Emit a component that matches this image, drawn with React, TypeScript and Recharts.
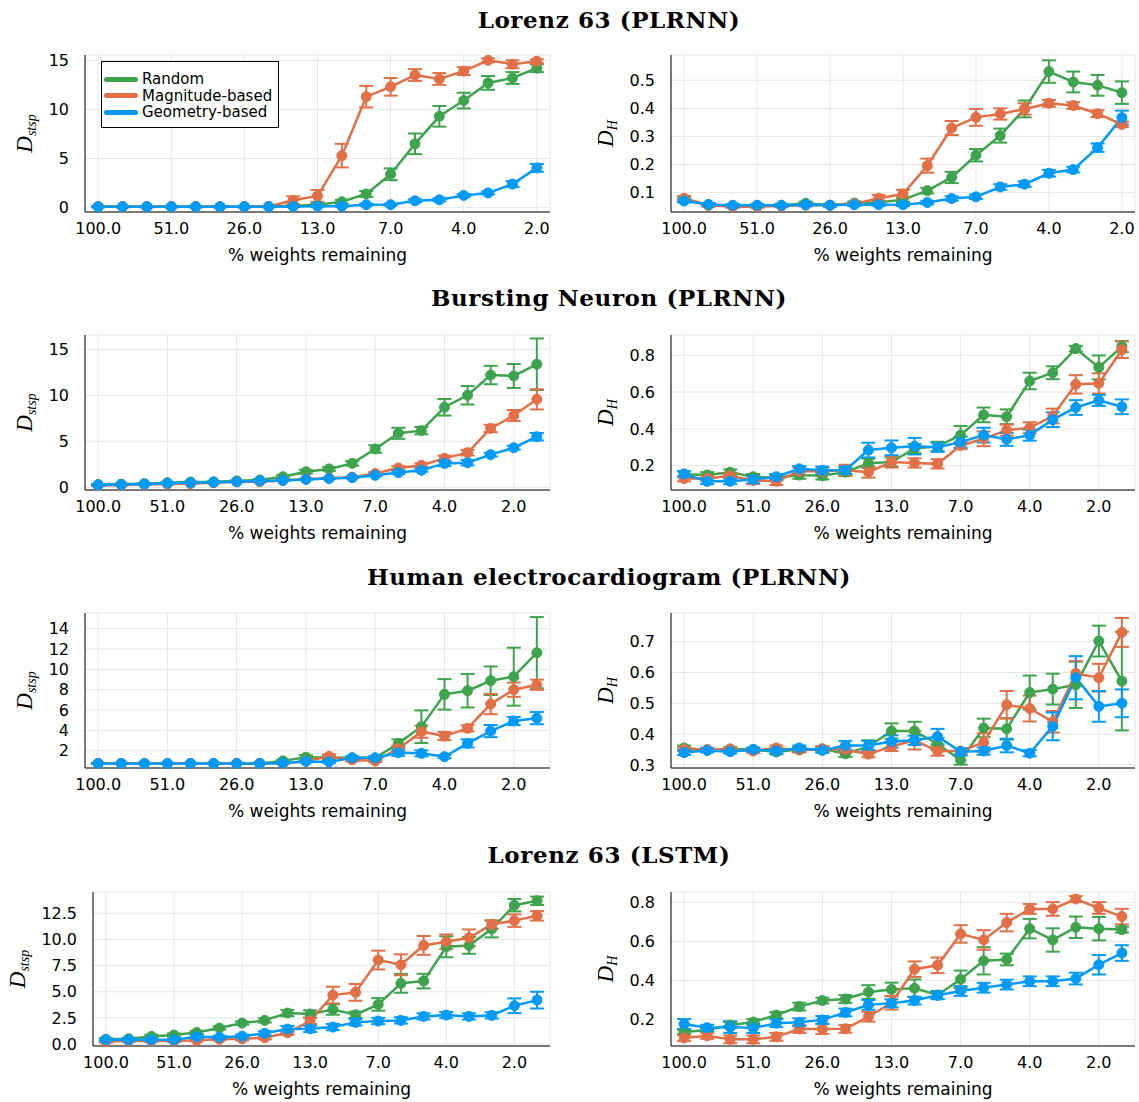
import React from 'react';
import { LineChart, Line, XAxis, YAxis, CartesianGrid, ErrorBar } from 'recharts';

const GREEN = '#3DA44D';
const ORANGE = '#E26F46';
const BLUE = '#009AF9';

const X_TICKS = [0, 3, 6, 9, 12, 15, 18];
const X_TICK_LABELS = ['100.0', '51.0', '26.0', '13.0', '7.0', '4.0', '2.0'];

// Lorenz 63 (PLRNN) - D_stsp
const l63D_rand = [0.1, 0.1, 0.1, 0.1, 0.1, 0.1, 0.1, 0.12, 0.2, 0.3, 0.6, 1.4, 3.4, 6.5, 9.3, 10.9, 12.7, 13.2, 14.2];
const l63D_randErr = [0.05, 0.05, 0.05, 0.05, 0.05, 0.05, 0.05, 0.05, 0.1, 0.15, 0.2, 0.3, 0.6, 1.05, 1.05, 0.8, 0.7, 0.6, 0.4];
const l63D_mag = [0.1, 0.1, 0.1, 0.1, 0.1, 0.1, 0.1, 0.12, 0.75, 1.2, 5.3, 11.3, 12.3, 13.5, 13.1, 13.9, 15.0, 14.6, 14.9];
const l63D_magErr = [0.05, 0.05, 0.05, 0.05, 0.05, 0.05, 0.05, 0.05, 0.4, 0.6, 1.2, 1.1, 0.9, 0.6, 0.6, 0.4, 0.2, 0.4, 0.2];
const l63D_geo = [0.1, 0.1, 0.1, 0.1, 0.1, 0.1, 0.1, 0.1, 0.12, 0.15, 0.15, 0.3, 0.3, 0.7, 0.8, 1.25, 1.5, 2.4, 4.05];
const l63D_geoErr = [0.05, 0.05, 0.05, 0.05, 0.05, 0.05, 0.05, 0.05, 0.05, 0.05, 0.05, 0.1, 0.1, 0.15, 0.15, 0.15, 0.15, 0.3, 0.4];

// Lorenz 63 (PLRNN) - D_H
const l63H_rand = [0.075, 0.055, 0.052, 0.052, 0.055, 0.062, 0.055, 0.063, 0.065, 0.075, 0.107, 0.154, 0.233, 0.303, 0.398, 0.531, 0.494, 0.482, 0.456];
const l63H_randErr = [0.008, 0.005, 0.004, 0.004, 0.004, 0.006, 0.004, 0.006, 0.006, 0.008, 0.01, 0.02, 0.022, 0.025, 0.03, 0.04, 0.037, 0.037, 0.04];
const l63H_mag = [0.08, 0.055, 0.05, 0.05, 0.052, 0.055, 0.055, 0.06, 0.08, 0.095, 0.196, 0.33, 0.368, 0.38, 0.398, 0.418, 0.41, 0.381, 0.343];
const l63H_magErr = [0.008, 0.004, 0.004, 0.004, 0.004, 0.004, 0.004, 0.005, 0.012, 0.015, 0.025, 0.025, 0.03, 0.02, 0.02, 0.012, 0.012, 0.012, 0.01];
const l63H_geo = [0.07, 0.058, 0.055, 0.055, 0.055, 0.057, 0.055, 0.057, 0.057, 0.057, 0.065, 0.079, 0.085, 0.12, 0.13, 0.169, 0.182, 0.26, 0.367];
const l63H_geoErr = [0.005, 0.005, 0.005, 0.005, 0.005, 0.005, 0.005, 0.005, 0.005, 0.005, 0.006, 0.008, 0.008, 0.01, 0.01, 0.012, 0.01, 0.015, 0.025];

// Bursting Neuron (PLRNN) - D_stsp
const bnD_rand = [0.3, 0.35, 0.4, 0.5, 0.58, 0.6, 0.7, 0.8, 1.15, 1.7, 2.0, 2.6, 4.17, 5.87, 6.16, 8.7, 10.0, 12.2, 12.1, 13.37];
const bnD_randErr = [0.05, 0.05, 0.05, 0.05, 0.05, 0.05, 0.05, 0.1, 0.15, 0.2, 0.2, 0.25, 0.4, 0.6, 0.4, 0.9, 1.0, 1.0, 1.3, 2.8];
const bnD_mag = [0.2, 0.25, 0.3, 0.35, 0.4, 0.5, 0.6, 0.6, 0.75, 0.9, 1.0, 1.1, 1.5, 2.1, 2.4, 3.15, 3.77, 6.4, 7.8, 9.56];
const bnD_magErr = [0.05, 0.05, 0.05, 0.05, 0.05, 0.05, 0.05, 0.05, 0.05, 0.05, 0.05, 0.05, 0.15, 0.2, 0.2, 0.3, 0.3, 0.4, 0.6, 1.1];
const bnD_geo = [0.25, 0.3, 0.35, 0.45, 0.5, 0.55, 0.6, 0.7, 0.75, 0.85, 0.95, 1.05, 1.3, 1.6, 1.85, 2.6, 2.68, 3.55, 4.3, 5.5];
const bnD_geoErr = [0.05, 0.05, 0.05, 0.05, 0.05, 0.05, 0.05, 0.05, 0.05, 0.05, 0.05, 0.05, 0.1, 0.15, 0.15, 0.3, 0.3, 0.2, 0.2, 0.4];

// Bursting Neuron (PLRNN) - D_H
const bnH_rand = [0.154, 0.15, 0.165, 0.14, 0.135, 0.149, 0.145, 0.165, 0.213, 0.22, 0.293, 0.305, 0.366, 0.476, 0.466, 0.66, 0.705, 0.836, 0.734, 0.847];
const bnH_randErr = [0.015, 0.015, 0.015, 0.015, 0.015, 0.02, 0.02, 0.02, 0.025, 0.025, 0.025, 0.025, 0.05, 0.04, 0.04, 0.045, 0.035, 0.015, 0.065, 0.03];
const bnH_mag = [0.13, 0.13, 0.145, 0.12, 0.115, 0.17, 0.17, 0.175, 0.165, 0.22, 0.215, 0.21, 0.31, 0.346, 0.393, 0.406, 0.47, 0.642, 0.647, 0.83];
const bnH_magErr = [0.015, 0.015, 0.015, 0.02, 0.02, 0.02, 0.02, 0.03, 0.03, 0.03, 0.025, 0.025, 0.02, 0.04, 0.03, 0.03, 0.04, 0.05, 0.055, 0.045];
const bnH_geo = [0.155, 0.115, 0.115, 0.125, 0.14, 0.183, 0.175, 0.175, 0.285, 0.297, 0.306, 0.3, 0.328, 0.366, 0.343, 0.366, 0.45, 0.516, 0.555, 0.52];
const bnH_geoErr = [0.015, 0.015, 0.015, 0.02, 0.015, 0.015, 0.02, 0.02, 0.04, 0.04, 0.045, 0.025, 0.03, 0.04, 0.035, 0.03, 0.04, 0.04, 0.03, 0.04];

// Human electrocardiogram (PLRNN) - D_stsp
const ecgD_rand = [0.75, 0.75, 0.75, 0.75, 0.75, 0.75, 0.75, 0.75, 1.0, 1.36, 1.3, 1.3, 1.28, 2.72, 4.36, 7.54, 7.9, 8.88, 9.28, 11.64];
const ecgD_randErr = [0.05, 0.05, 0.05, 0.05, 0.05, 0.05, 0.05, 0.05, 0.1, 0.2, 0.15, 0.15, 0.15, 0.4, 1.6, 1.5, 1.65, 1.4, 2.85, 3.5];
const ecgD_mag = [0.75, 0.75, 0.75, 0.75, 0.75, 0.75, 0.75, 0.75, 0.75, 0.98, 1.44, 1.1, 0.98, 2.2, 3.87, 3.44, 4.2, 6.59, 8.0, 8.49];
const ecgD_magErr = [0.05, 0.05, 0.05, 0.05, 0.05, 0.05, 0.05, 0.05, 0.05, 0.1, 0.2, 0.15, 0.1, 0.3, 0.6, 0.4, 0.3, 1.0, 0.7, 0.5];
const ecgD_geo = [0.75, 0.75, 0.75, 0.75, 0.75, 0.75, 0.75, 0.75, 0.8, 0.95, 0.9, 1.3, 1.3, 1.8, 1.74, 1.41, 2.72, 3.93, 4.92, 5.2];
const ecgD_geoErr = [0.05, 0.05, 0.05, 0.05, 0.05, 0.05, 0.05, 0.05, 0.1, 0.1, 0.1, 0.15, 0.15, 0.3, 0.3, 0.15, 0.4, 0.6, 0.4, 0.6];

// Human electrocardiogram (PLRNN) - D_H
const ecgH_rand = [0.355, 0.348, 0.352, 0.35, 0.342, 0.35, 0.352, 0.336, 0.36, 0.41, 0.41, 0.368, 0.316, 0.42, 0.417, 0.535, 0.546, 0.56, 0.702, 0.572];
const ecgH_randErr = [0.008, 0.006, 0.006, 0.006, 0.008, 0.008, 0.008, 0.01, 0.02, 0.025, 0.03, 0.02, 0.015, 0.03, 0.035, 0.055, 0.05, 0.075, 0.05, 0.16];
const ecgH_mag = [0.35, 0.35, 0.35, 0.345, 0.355, 0.348, 0.352, 0.35, 0.335, 0.36, 0.38, 0.345, 0.345, 0.373, 0.495, 0.483, 0.44, 0.597, 0.583, 0.73];
const ecgH_magErr = [0.006, 0.006, 0.006, 0.006, 0.008, 0.008, 0.008, 0.01, 0.01, 0.015, 0.03, 0.015, 0.01, 0.03, 0.045, 0.042, 0.035, 0.04, 0.045, 0.047];
const ecgH_geo = [0.34, 0.347, 0.343, 0.35, 0.345, 0.355, 0.347, 0.363, 0.363, 0.376, 0.38, 0.392, 0.343, 0.345, 0.363, 0.338, 0.425, 0.583, 0.49, 0.5];
const ecgH_geoErr = [0.008, 0.006, 0.006, 0.006, 0.008, 0.008, 0.008, 0.015, 0.015, 0.02, 0.015, 0.025, 0.012, 0.012, 0.022, 0.01, 0.045, 0.07, 0.05, 0.045];

// Lorenz 63 (LSTM) - D_stsp
const lstmD_rand = [0.45, 0.5, 0.73, 0.86, 1.1, 1.53, 2.0, 2.26, 2.96, 2.87, 3.3, 2.8, 3.79, 5.8, 6.02, 9.3, 9.43, 11.0, 13.28, 13.7];
const lstmD_randErr = [0.1, 0.1, 0.15, 0.15, 0.15, 0.15, 0.15, 0.2, 0.3, 0.35, 0.5, 0.3, 0.6, 0.9, 0.7, 1.0, 0.8, 0.8, 0.6, 0.4];
const lstmD_mag = [0.25, 0.3, 0.3, 0.3, 0.35, 0.45, 0.5, 0.6, 1.08, 2.2, 4.68, 4.94, 8.03, 7.58, 9.43, 9.78, 10.16, 11.43, 11.8, 12.26];
const lstmD_magErr = [0.1, 0.1, 0.1, 0.1, 0.1, 0.1, 0.15, 0.15, 0.2, 0.3, 0.8, 0.8, 0.9, 1.0, 0.9, 0.7, 0.8, 0.4, 0.6, 0.45];
const lstmD_geo = [0.41, 0.4, 0.4, 0.4, 0.7, 0.65, 0.75, 1.02, 1.43, 1.45, 1.62, 2.07, 2.2, 2.26, 2.64, 2.77, 2.64, 2.74, 3.66, 4.2];
const lstmD_geoErr = [0.1, 0.1, 0.1, 0.1, 0.15, 0.15, 0.15, 0.2, 0.3, 0.3, 0.3, 0.3, 0.3, 0.3, 0.3, 0.3, 0.3, 0.3, 0.7, 0.8];

// Lorenz 63 (LSTM) - D_H
const lstmH_rand = [0.135, 0.145, 0.17, 0.186, 0.222, 0.265, 0.296, 0.304, 0.34, 0.353, 0.359, 0.325, 0.405, 0.5, 0.507, 0.665, 0.607, 0.672, 0.665, 0.66];
const lstmH_randErr = [0.01, 0.01, 0.015, 0.015, 0.015, 0.02, 0.015, 0.02, 0.035, 0.035, 0.045, 0.02, 0.045, 0.07, 0.03, 0.05, 0.06, 0.055, 0.06, 0.015];
const lstmH_mag = [0.104, 0.115, 0.097, 0.097, 0.11, 0.15, 0.15, 0.151, 0.213, 0.285, 0.457, 0.477, 0.638, 0.607, 0.696, 0.766, 0.766, 0.817, 0.771, 0.727];
const lstmH_magErr = [0.015, 0.015, 0.02, 0.02, 0.02, 0.02, 0.025, 0.02, 0.025, 0.035, 0.04, 0.04, 0.045, 0.05, 0.045, 0.025, 0.035, 0.015, 0.03, 0.04];
const lstmH_geo = [0.176, 0.157, 0.16, 0.155, 0.18, 0.185, 0.197, 0.235, 0.274, 0.282, 0.296, 0.323, 0.345, 0.362, 0.378, 0.395, 0.395, 0.409, 0.48, 0.54];
const lstmH_geoErr = [0.025, 0.015, 0.03, 0.025, 0.02, 0.02, 0.02, 0.02, 0.025, 0.02, 0.02, 0.02, 0.025, 0.025, 0.025, 0.025, 0.025, 0.03, 0.05, 0.04];

const TITLES = ['Lorenz 63 (PLRNN)', 'Bursting Neuron (PLRNN)', 'Human electrocardiogram (PLRNN)', 'Lorenz 63 (LSTM)'];
const LEGEND = [
  { name: 'Random', color: GREEN },
  { name: 'Magnitude-based', color: ORANGE },
  { name: 'Geometry-based', color: BLUE },
];

const YW = 90;
const MT = 12;
const MR = 12;
const XH = 60;
const TICK = { fontFamily: 'DejaVu Sans', fontSize: 16, fill: '#000' };

const int = (v: number) => String(v);
const one = (v: number) => v.toFixed(1);

const panels = [
  { x: 85, y: 55, w: 465, h: 157, s: [l63D_rand, l63D_randErr, l63D_mag, l63D_magErr, l63D_geo, l63D_geoErr], dom: [-0.44, 15.54], ticks: [0, 5, 10, 15], fmt: int, sub: 'stsp', gap: 53 },
  { x: 671, y: 55, w: 464, h: 157, s: [l63H_rand, l63H_randErr, l63H_mag, l63H_magErr, l63H_geo, l63H_geoErr], dom: [0.031, 0.59], ticks: [0.1, 0.2, 0.3, 0.4, 0.5], fmt: one, sub: 'H', gap: 58 },
  { x: 85, y: 335, w: 465, h: 155, s: [bnD_rand, bnD_randErr, bnD_mag, bnD_magErr, bnD_geo, bnD_geoErr], dom: [-0.29, 16.55], ticks: [0, 5, 10, 15], fmt: int, sub: 'stsp', gap: 53 },
  { x: 671, y: 335, w: 464, h: 155, s: [bnH_rand, bnH_randErr, bnH_mag, bnH_magErr, bnH_geo, bnH_geoErr], dom: [0.068, 0.91], ticks: [0.2, 0.4, 0.6, 0.8], fmt: one, sub: 'H', gap: 58 },
  { x: 85, y: 613, w: 465, h: 155, s: [ecgD_rand, ecgD_randErr, ecgD_mag, ecgD_magErr, ecgD_geo, ecgD_geoErr], dom: [0.3, 15.54], ticks: [2, 4, 6, 8, 10, 12, 14], fmt: int, sub: 'stsp', gap: 53 },
  { x: 671, y: 613, w: 464, h: 155, s: [ecgH_rand, ecgH_randErr, ecgH_mag, ecgH_magErr, ecgH_geo, ecgH_geoErr], dom: [0.29, 0.793], ticks: [0.3, 0.4, 0.5, 0.6, 0.7], fmt: one, sub: 'H', gap: 58 },
  { x: 93, y: 892, w: 457, h: 154, s: [lstmD_rand, lstmD_randErr, lstmD_mag, lstmD_magErr, lstmD_geo, lstmD_geoErr], dom: [-0.19, 14.54], ticks: [0, 2.5, 5, 7.5, 10, 12.5], fmt: one, sub: 'stsp', gap: 68 },
  { x: 671, y: 892, w: 464, h: 154, s: [lstmH_rand, lstmH_randErr, lstmH_mag, lstmH_magErr, lstmH_geo, lstmH_geoErr], dom: [0.063, 0.853], ticks: [0.2, 0.4, 0.6, 0.8], fmt: one, sub: 'H', gap: 58 },
];

const XLabel = ({ viewBox }: any) => {
  if (!viewBox) return null;
  return (
    <text x={viewBox.x + viewBox.width / 2} y={viewBox.y + 43} textAnchor="middle" dominantBaseline="central"
      fontFamily="DejaVu Sans" fontSize={17} fill="#000">
      % weights remaining
    </text>
  );
};

const YLabel = ({ viewBox, sub, gap }: any) => {
  if (!viewBox) return null;
  const bx = viewBox.x + viewBox.width - gap;
  const cy = viewBox.y + viewBox.height / 2;
  return (
    <text x={bx} y={cy} transform={`rotate(-90 ${bx} ${cy})`} textAnchor="middle"
      fontFamily="Liberation Serif" fontStyle="italic" fill="#000">
      <tspan fontSize={23}>D</tspan>
      <tspan fontSize={14} dy={4}>{sub}</tspan>
    </text>
  );
};

const Panel = ({ p }: any) => {
  const [rand, randErr, mag, magErr, geo, geoErr] = p.s;
  const n = rand.length;
  const pad = (n - 1) * 0.03;
  const data = rand.map((v: number, i: number) => ({
    i, r: v, rE: randErr[i], m: mag[i], mE: magErr[i], g: geo[i], gE: geoErr[i],
  }));
  const series = [
    { key: 'r', err: 'rE', color: GREEN },
    { key: 'm', err: 'mE', color: ORANGE },
    { key: 'g', err: 'gE', color: BLUE },
  ];
  return (
    <div style={{ position: 'absolute', left: p.x - YW, top: p.y - MT }}>
      <LineChart width={YW + p.w + MR} height={MT + p.h + XH} data={data}
        margin={{ top: MT, right: MR, left: 0, bottom: 0 }}>
        <CartesianGrid stroke="#e6e6e6" strokeWidth={1} />
        <XAxis dataKey="i" type="number" domain={[-pad, n - 1 + pad]} ticks={X_TICKS}
          tickFormatter={(v: number) => X_TICK_LABELS[Math.round(v / 3)]} height={XH}
          axisLine={{ stroke: '#000' }} tickLine={false} tickSize={6} tickMargin={5} tick={TICK}
          interval={0} label={<XLabel />} />
        <YAxis type="number" domain={p.dom} ticks={p.ticks} tickFormatter={p.fmt} width={YW}
          axisLine={{ stroke: '#000' }} tickLine={false} tickSize={6} tickMargin={10} tick={TICK}
          interval={0} label={<YLabel sub={p.sub} gap={p.gap} />} />
        {series.map((s) => (
          <Line key={s.key} type="linear" dataKey={s.key} stroke={s.color} strokeWidth={2.5}
            dot={{ r: 5, fill: s.color, stroke: s.color, strokeWidth: 1 }} activeDot={false}
            isAnimationActive={false}>
            <ErrorBar dataKey={s.err} width={7} stroke={s.color} strokeWidth={2} direction="y"
              isAnimationActive={false} />
          </Line>
        ))}
      </LineChart>
    </div>
  );
};

const TITLE_Y = [20, 298, 577, 855];

export default function App() {
  return (
    <div style={{ position: 'absolute', left: 0, top: 0, width: 1139, height: 1102, background: '#fff', overflow: 'hidden' }}>
      {TITLES.map((t, k) => (
        <div key={t} style={{
          position: 'absolute', left: 309, width: 600, top: TITLE_Y[k] - 16, height: 32, lineHeight: '32px',
          textAlign: 'center', fontFamily: 'DejaVu Serif', fontWeight: 'bold', fontSize: 23, letterSpacing: 0.6, color: '#000',
        }}>{t}</div>
      ))}
      {panels.map((p, k) => <Panel key={k} p={p} />)}
      <div style={{
        position: 'absolute', left: 101, top: 61, width: 178, height: 67, border: '1px solid #000',
        boxSizing: 'border-box', background: '#fff', fontFamily: 'DejaVu Sans', fontSize: 15, color: '#000',
      }}>
        {LEGEND.map((l, k) => (
          <div key={l.name} style={{ position: 'absolute', left: 2, top: 8 + k * 16.5, height: 18, display: 'flex', alignItems: 'center' }}>
            <span style={{ display: 'inline-block', width: 34, height: 5, borderRadius: 3, background: l.color }} />
            <span style={{ marginLeft: 4, lineHeight: '18px' }}>{l.name}</span>
          </div>
        ))}
      </div>
    </div>
  );
}
